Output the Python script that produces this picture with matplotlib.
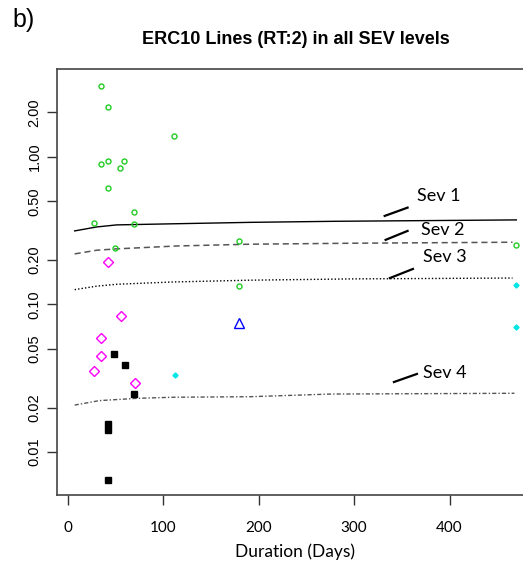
import numpy as np
import matplotlib
matplotlib.use("Agg")
import matplotlib.pyplot as plt
from matplotlib.ticker import FixedLocator, NullLocator

# points per group (duration in days, value)
green_x = [34.6, 41.6, 111, 34.6, 41.6, 59, 54.8, 41.6, 69.2, 27.6, 69.2, 49.3, 179.6, 179.6, 469.6]
green_y = [3.04, 2.19, 1.39, 0.90, 0.94, 0.94, 0.84, 0.62, 0.42, 0.357, 0.351, 0.24, 0.268, 0.134, 0.253]

magenta_x = [41.9, 55.6, 34.6, 34.6, 27.6, 70.2]
magenta_y = [0.193, 0.0836, 0.0596, 0.045, 0.0354, 0.0294]

black_x = [48.5, 60, 69.5, 42.3, 42.3, 42.3]
black_y = [0.046, 0.0387, 0.0246, 0.0154, 0.0141, 0.00643]

blue_x = [179.6]
blue_y = [0.0745]

cyan_x = [112, 470, 470]
cyan_y = [0.0333, 0.136, 0.0707]

# severity lines
sev1_x = [7, 30, 51, 110, 191, 280, 470]
sev1_y = [0.315, 0.335, 0.346, 0.352, 0.36, 0.366, 0.374]
sev2_x = [7, 30, 51, 114, 191, 300, 466]
sev2_y = [0.22, 0.233, 0.238, 0.249, 0.256, 0.26, 0.264]
sev3_x = [7, 30, 51, 110, 191, 300, 466]
sev3_y = [0.126, 0.133, 0.137, 0.142, 0.146, 0.149, 0.151]
sev4_x = [7, 33, 72, 110, 191, 275, 468]
sev4_y = [0.0208, 0.0223, 0.0231, 0.0235, 0.0237, 0.0247, 0.025]

y_ticks = [0.01, 0.02, 0.05, 0.10, 0.20, 0.50, 1.00, 2.00]
y_labels = ["0.01", "0.02", "0.05", "0.10", "0.20", "0.50", "1.00", "2.00"]
x_ticks = [0, 100, 200, 300, 400]

# label text, leader line start/end, text anchor
sev_labels = [
    ("Sev 1", (332, 0.398), (356, 0.453), (366, 0.544)),
    ("Sev 2", (333, 0.274), (356, 0.315), (370, 0.322)),
    ("Sev 3", (337.5, 0.151), (361.6, 0.174), (372, 0.21)),
    ("Sev 4", (341.7, 0.0298), (365.8, 0.0338), (372, 0.0343)),
]

fig = plt.figure(figsize=(5.23, 5.69), dpi=100)
ax = fig.add_axes([0.109, 0.130, 0.910, 0.749])

ax.plot(sev1_x, sev1_y, color="black", lw=1.0, ls="-")
ax.plot(sev2_x, sev2_y, color="#555555", lw=1.1, ls=(0, (4, 2.5)))
ax.plot(sev3_x, sev3_y, color="black", lw=1.0, ls=(0, (1, 1.5)))
ax.plot(sev4_x, sev4_y, color="#555555", lw=1.0, ls=(0, (3, 1.5, 1, 1.5)))

ax.plot(green_x, green_y, "o", ms=3.6, mfc="none", mec="#22cc22", mew=1.0)
ax.plot(magenta_x, magenta_y, "D", ms=4.8, mfc="none", mec="#ff00ff", mew=1.0)
ax.plot(black_x, black_y, "s", ms=5.0, color="black")
ax.plot(blue_x, blue_y, "^", ms=6.5, mfc="none", mec="#0000ff", mew=1.0)
ax.plot(cyan_x, cyan_y, "D", ms=2.6, color="#00e5e5")

for txt, p0, p1, tp in sev_labels:
    ax.plot([p0[0], p1[0]], [p0[1], p1[1]], color="black", lw=1.6)
    ax.text(tp[0], tp[1], txt, fontsize=13, family="Lato", ha="left", va="center")

ax.set_yscale("log")
ax.set_xlim(-11.5, 487.4)
ax.set_ylim(0.00511, 3.95)
ax.yaxis.set_major_locator(FixedLocator(y_ticks))
ax.yaxis.set_minor_locator(NullLocator())
ax.set_yticklabels(y_labels, rotation=90, va="center", fontsize=10.5, family="Liberation Sans")
ax.set_xticks(x_ticks)
ax.set_xticklabels([str(t) for t in x_ticks], fontsize=11, family="Lato")
ax.tick_params(axis="both", direction="out", length=7, width=1, color="#333333")
ax.tick_params(axis="y", pad=4)
ax.tick_params(axis="x", pad=12)
for s in ax.spines.values():
    s.set_color("#444444")
    s.set_linewidth(1.2)

ax.set_xlabel("Duration (Days)", fontsize=12.5, family="Lato", labelpad=6)
fig.text(0.565, 0.930, "ERC10 Lines (RT:2) in all SEV levels", ha="center", va="center",
         fontsize=13, fontweight="bold", family="Liberation Sans")
fig.text(0.024, 0.964, "b)", ha="left", va="center", fontsize=18, family="Liberation Sans")

fig.savefig("out.png", dpi=100)
